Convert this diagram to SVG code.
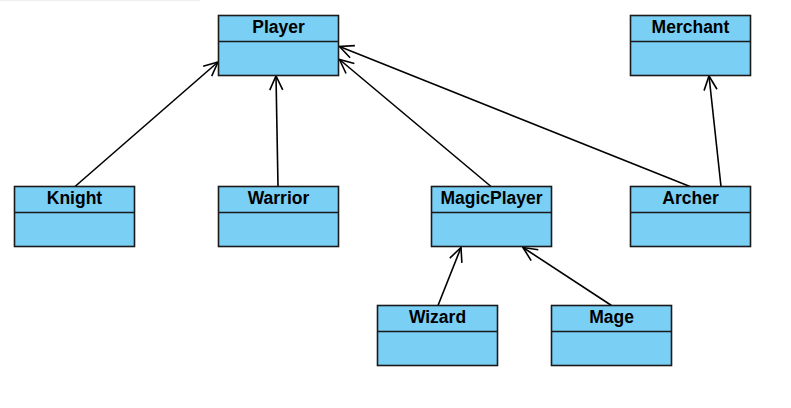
<svg xmlns="http://www.w3.org/2000/svg" width="791" height="408" viewBox="0 0 791 408">
<defs>
<style>
.box{fill:#7acff5;stroke:#1a1a1a;stroke-width:1.6}
.div{stroke:#1a1a1a;stroke-width:1.6}
.t{font-family:"Liberation Sans",Arial,sans-serif;font-size:17.5px;font-weight:bold;fill:#000;text-anchor:middle}
.c{stroke:#000;stroke-width:1.6;fill:none}
</style>
<marker id="open" viewBox="-1 -1 17 17" refX="14" refY="7" markerWidth="17" markerHeight="17" markerUnits="userSpaceOnUse" orient="auto">
<path d="M0,0.5 L14,7 L0,13.5" fill="none" stroke="#000" stroke-width="1.6"/>
</marker>
</defs>
<rect width="791" height="408" fill="#fff"/>
<rect x="0" y="0" width="200" height="1" fill="#eeeeee"/>
<g id="connectors">
<line class="c" x1="75" y1="186.5" x2="218" y2="62" marker-end="url(#open)"/>
<line class="c" x1="278" y1="186.5" x2="276" y2="76" marker-end="url(#open)"/>
<line class="c" x1="491" y1="186.5" x2="339.5" y2="59.5" marker-end="url(#open)"/>
<line class="c" x1="690" y1="186.5" x2="339.5" y2="46.5" marker-end="url(#open)"/>
<line class="c" x1="721" y1="186.5" x2="709" y2="76" marker-end="url(#open)"/>
<line class="c" x1="438" y1="305.5" x2="461" y2="247.5" marker-end="url(#open)"/>
<line class="c" x1="611.5" y1="305.5" x2="523" y2="247.5" marker-end="url(#open)"/>
</g>
<g id="Player"><rect class="box" x="218.5" y="15.5" width="120" height="60"/><line class="div" x1="218.5" y1="41.5" x2="338.5" y2="41.5"/><text class="t" x="278.5" y="33">Player</text></g>
<g id="Merchant"><rect class="box" x="630.5" y="15.5" width="120" height="60"/><line class="div" x1="630.5" y1="41.5" x2="750.5" y2="41.5"/><text class="t" x="690.5" y="33">Merchant</text></g>
<g id="Knight"><rect class="box" x="14.5" y="186.5" width="120" height="60"/><line class="div" x1="14.5" y1="212.5" x2="134.5" y2="212.5"/><text class="t" x="74.5" y="204">Knight</text></g>
<g id="Warrior"><rect class="box" x="218.5" y="186.5" width="120" height="60"/><line class="div" x1="218.5" y1="212.5" x2="338.5" y2="212.5"/><text class="t" x="278.5" y="204">Warrior</text></g>
<g id="MagicPlayer"><rect class="box" x="431.5" y="186.5" width="120" height="60"/><line class="div" x1="431.5" y1="212.5" x2="551.5" y2="212.5"/><text class="t" x="491.5" y="204">MagicPlayer</text></g>
<g id="Archer"><rect class="box" x="630.5" y="186.5" width="120" height="60"/><line class="div" x1="630.5" y1="212.5" x2="750.5" y2="212.5"/><text class="t" x="690.5" y="204">Archer</text></g>
<g id="Wizard"><rect class="box" x="377.5" y="305.5" width="120" height="60"/><line class="div" x1="377.5" y1="331.5" x2="497.5" y2="331.5"/><text class="t" x="437.5" y="323">Wizard</text></g>
<g id="Mage"><rect class="box" x="551.5" y="305.5" width="120" height="60"/><line class="div" x1="551.5" y1="331.5" x2="671.5" y2="331.5"/><text class="t" x="611.5" y="323">Mage</text></g>
</svg>
